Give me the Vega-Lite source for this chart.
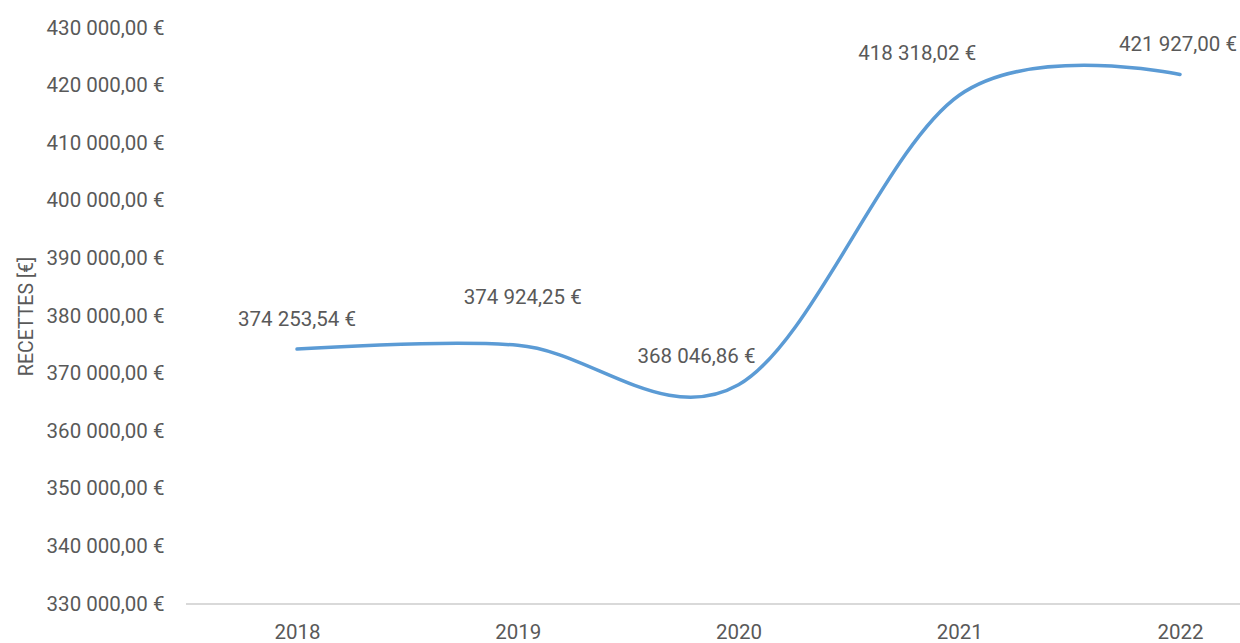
{
  "$schema": "https://vega.github.io/schema/vega-lite/v6.json",
  "width": 1054,
  "height": 576,
  "autosize": {"type": "none"},
  "padding": {"left": 186, "top": 28, "right": 0, "bottom": 39},
  "background": "white",
  "config": {
    "locale": {"number": {"decimal": ",", "thousands": " ", "grouping": [3], "currency": ["", " €"]}},
    "view": {"stroke": null},
    "font": "Roboto"
  },
  "data": {"values": [
    {"year": "2018", "recettes": 374253.54},
    {"year": "2019", "recettes": 374924.25},
    {"year": "2020", "recettes": 368046.86},
    {"year": "2021", "recettes": 418318.02},
    {"year": "2022", "recettes": 421927.00}
  ]},
  "encoding": {
    "x": {"field": "year", "type": "ordinal", "scale": {"type": "point", "range": [111, 994], "padding": 0},
      "axis": {"title": null, "labelAngle": 0, "ticks": false, "domain": false, "labelColor": "#595959", "labelFontSize": 20.5, "labelPadding": 18, "labelFont": "Roboto"}},
    "y": {"field": "recettes", "type": "quantitative", "scale": {"domain": [330000, 430000], "nice": false, "zero": false},
      "axis": {"title": "RECETTES [€]", "titleColor": "#595959", "titleFontSize": 19.5, "titleFontWeight": "normal", "titleFont": "Roboto", "titlePadding": 10, "values": [330000, 340000, 350000, 360000, 370000, 380000, 390000, 400000, 410000, 420000, 430000], "format": "$,.2f", "grid": false, "domain": false, "ticks": false, "labelColor": "#595959", "labelFontSize": 20.5, "labelPadding": 22, "labelFont": "Roboto"}}
  },
  "layer": [
    {"mark": {"type": "rule", "color": "#d9d9d9", "strokeWidth": 1.5}, "encoding": {"x": null, "y": {"datum": 330000}}},
    {"mark": {"type": "line", "interpolate": "cardinal", "tension": 0, "color": "#5B9BD5", "strokeWidth": 3.5, "strokeCap": "round"}},
    {"transform": [{"filter": "datum.year == '2018'"}], "mark": {"type": "text", "dx": 0, "dy": -29, "fontSize": 20.5, "color": "#595959", "baseline": "middle"}, "encoding": {"text": {"field": "recettes", "type": "quantitative", "format": "$,.2f"}}},
    {"transform": [{"filter": "datum.year == '2019'"}], "mark": {"type": "text", "dx": 5, "dy": -47, "fontSize": 20.5, "color": "#595959", "baseline": "middle"}, "encoding": {"text": {"field": "recettes", "type": "quantitative", "format": "$,.2f"}}},
    {"transform": [{"filter": "datum.year == '2020'"}], "mark": {"type": "text", "dx": -42, "dy": -28, "fontSize": 20.5, "color": "#595959", "baseline": "middle"}, "encoding": {"text": {"field": "recettes", "type": "quantitative", "format": "$,.2f"}}},
    {"transform": [{"filter": "datum.year == '2021'"}], "mark": {"type": "text", "dx": -42, "dy": -41, "fontSize": 20.5, "color": "#595959", "baseline": "middle"}, "encoding": {"text": {"field": "recettes", "type": "quantitative", "format": "$,.2f"}}},
    {"transform": [{"filter": "datum.year == '2022'"}], "mark": {"type": "text", "dx": -2, "dy": -30, "fontSize": 20.5, "color": "#595959", "baseline": "middle"}, "encoding": {"text": {"field": "recettes", "type": "quantitative", "format": "$,.2f"}}}
  ]
}
